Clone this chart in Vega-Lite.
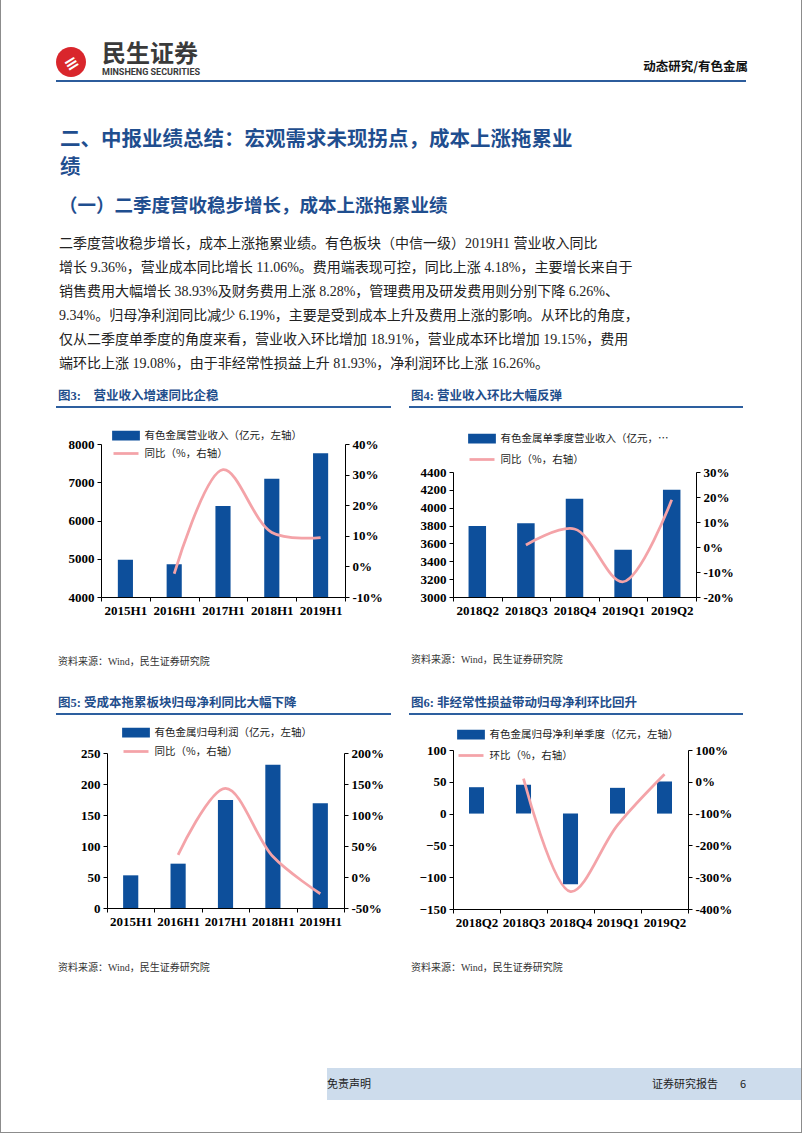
{
  "$schema": "https://vega.github.io/schema/vega-lite/v6.json",
  "background": "white",
  "padding": 0,
  "spacing": 0,
  "resolve": {"scale": {"color": "independent"}, "legend": {"color": "independent"}},
  "config": {
    "view": {"stroke": null},
    "axis": {"domainColor": "#000000", "tickColor": "#000000", "labelColor": "#000000", "labelFont": "Liberation Serif", "labelFontWeight": "bold", "labelFontSize": 13, "grid": false, "tickSize": 4, "labelPadding": 3},
    "axisX": {"tickBand": "extent", "labelAngle": 0},
    "legend": {"orient": "none", "direction": "vertical", "labelFont": "Noto Sans CJK SC", "labelFontSize": 10.5, "labelColor": "#222222", "labelOffset": 12, "padding": 0, "symbolSize": 100, "labelLimit": 300}
  },
  "vconcat": [
    {
      "spacing": 0,
      "resolve": {"scale": {"color": "independent"}, "legend": {"color": "independent"}},
      "hconcat": [
        {"width": 1, "height": 1132, "view": {"fill": "#8c8c8c", "stroke": null}, "data": {"values": []}, "mark": "point"},
        {"width": 55, "height": 1, "data": {"values": []}, "mark": "point"},
        {
          "spacing": 0,
          "resolve": {"scale": {"color": "independent"}, "legend": {"color": "independent"}},
          "vconcat": [
            {"width": 1, "height": 41, "data": {"values": []}, "mark": "point"},
            {
              "spacing": 16,
              "hconcat": [
                {
                  "spacing": 0,
                  "vconcat": [
                    {"width": 1, "height": 6, "data": {"values": []}, "mark": "point"},
                    {"width": 30, "height": 30, "view": {"fill": "#d9262c", "cornerRadius": 15, "stroke": null}, "data": {"values": []}, "mark": "point",
                     "title": {"text": "≡", "orient": "bottom", "anchor": "middle", "offset": -22, "dx": -4, "angle": -32, "font": "DejaVu Sans", "fontSize": 17, "fontWeight": "bold", "color": "#ffffff"}}
                  ]
                },
                {
                  "width": 98, "height": 0, "data": {"values": []}, "mark": "point",
                  "title": {"text": "民生证券", "subtitle": "MINSHENG SECURITIES", "orient": "bottom", "font": "Noto Sans CJK SC", "fontSize": 24, "fontWeight": "bold", "color": "#3a3a3a", "subtitleFont": "Roboto", "subtitleFontSize": 9, "subtitleFontWeight": "bold", "subtitleColor": "#3a3a3a", "subtitlePadding": 1, "anchor": "start", "offset": 0, "dy": -18}
                },
                {
                  "width": 531, "height": 20, "data": {"values": []}, "mark": "point",
                  "title": {"text": "动态研究/有色金属", "orient": "bottom", "anchor": "end", "offset": 0, "font": "Noto Sans CJK SC", "fontSize": 12.5, "fontWeight": "bold", "color": "#111111"}
                }
              ]
            },
            {"width": 1, "height": 3, "data": {"values": []}, "mark": "point"},
            {"width": 690, "height": 2, "view": {"fill": "#2c5c9c", "stroke": null}, "data": {"values": []}, "mark": "point"},
            {"width": 1, "height": 47, "data": {"values": []}, "mark": "point"},
            {
              "spacing": -2,
              "resolve": {"scale": {"color": "independent"}, "legend": {"color": "independent"}},
              "vconcat": [
                {
                  "width": 690, "height": 0, "data": {"values": []}, "mark": "point",
                  "title": {"text": ["二、中报业绩总结：宏观需求未现拐点，成本上涨拖累业", "绩"], "lineHeight": 28, "font": "Noto Sans CJK SC", "fontSize": 20.5, "fontWeight": "bold", "color": "#1f4e8f", "anchor": "start", "offset": 0, "dx": 4}
                },
                {
                  "width": 690, "height": 0, "data": {"values": []}, "mark": "point",
                  "title": {
                    "text": "（一）二季度营收稳步增长，成本上涨拖累业绩",
                    "font": "Noto Sans CJK SC", "fontSize": 18.5, "fontWeight": "bold", "color": "#1f4e8f", "anchor": "start", "offset": 0, "dx": 3,
                    "subtitle": [
                      "　　二季度营收稳步增长，成本上涨拖累业绩。有色板块（中信一级）2019H1 营业收入同比",
                      "增长 9.36%，营业成本同比增长 11.06%。费用端表现可控，同比上涨 4.18%，主要增长来自于",
                      "销售费用大幅增长 38.93%及财务费用上涨 8.28%，管理费用及研发费用则分别下降 6.26%、",
                      "9.34%。归母净利润同比减少 6.19%，主要是受到成本上升及费用上涨的影响。从环比的角度，",
                      "仅从二季度单季度的角度来看，营业收入环比增加 18.91%，营业成本环比增加 19.15%，费用",
                      "端环比上涨 19.08%，由于非经常性损益上升 81.93%，净利润环比上涨 16.26%。"
                    ],
                    "subtitleFont": "'Liberation Serif', 'Noto Sans CJK SC'", "subtitleFontSize": 14, "subtitleColor": "#222222", "subtitleLineHeight": 24, "subtitlePadding": 22
                  }
                },
                {
                  "spacing": 18,
                  "resolve": {"scale": {"color": "independent"}, "legend": {"color": "independent"}},
                  "hconcat": [
                    {
                      "spacing": 0,
                      "resolve": {"scale": {"color": "independent"}, "legend": {"color": "independent"}},
                      "vconcat": [
                        {"width": 335, "height": 2, "view": {"fill": "#2d5f9f", "stroke": null}, "data": {"values": []}, "mark": "point",
                         "title": {"text": "图3:　营业收入增速同比企稳", "font": "'Liberation Serif', 'Noto Sans CJK SC'", "fontSize": 12.5, "fontWeight": "bold", "color": "#1f4e8c", "anchor": "start", "offset": 4, "dx": 2}},
                        {"width": 1, "height": 21, "data": {"values": []}, "mark": "point"},
                        {
                          "spacing": 8,
                          "resolve": {"scale": {"color": "independent"}, "legend": {"color": "independent"}},
                          "hconcat": [
                            {"width": 1, "height": 1, "data": {"values": []}, "mark": "point"},
                            {
                              "width": 244, "height": 153,
                              "data": {"values": [
                                {"period": "2015H1", "revenue": 4975, "yoy": null},
                                {"period": "2016H1", "revenue": 4855, "yoy": -2.4},
                                {"period": "2017H1", "revenue": 6380, "yoy": 31.6},
                                {"period": "2018H1", "revenue": 7090, "yoy": 11.1},
                                {"period": "2019H1", "revenue": 7755, "yoy": 9.4}
                              ]},
                              "encoding": {"x": {"field": "period", "type": "ordinal", "sort": null, "title": null, "scale": {"paddingInner": 0, "paddingOuter": 0}}},
                              "layer": [
                                {
                                  "mark": {"type": "bar", "width": {"band": 0.31}, "clip": true},
                                  "encoding": {
                                    "y": {"field": "revenue", "type": "quantitative", "title": null, "scale": {"domain": [4000, 8000], "zero": false, "nice": false}, "axis": {"values": [4000, 5000, 6000, 7000, 8000], "format": "d", "minExtent": 36}},
                                    "color": {"datum": "有色金属营业收入（亿元，左轴）", "type": "nominal",
                                      "scale": {"domain": ["有色金属营业收入（亿元，左轴）", "同比（%，右轴）"], "range": ["#0d4f9b", "#f4a3a8"]},
                                      "legend": {"title": null, "legendX": 18.5, "legendY": -15, "rowPadding": 2,
                                        "encode": {"symbols": {"update": {
                                          "shape": {"signal": "datum.index === 0 ? 'M-2.5,-0.7H2.5V0.7H-2.5Z' : 'M-2.5,0H2.5'"},
                                          "fill": {"signal": "datum.index === 0 ? '#0d4f9b' : 'transparent'"},
                                          "stroke": {"signal": "datum.index === 0 ? 'transparent' : '#f4a3a8'"},
                                          "strokeWidth": {"value": 2.75}, "opacity": {"value": 1}}}}}}
                                  }
                                },
                                {
                                  "transform": [{"filter": "datum.yoy != null"}],
                                  "mark": {"type": "line", "interpolate": "catmull-rom", "strokeWidth": 2.75},
                                  "encoding": {
                                    "y": {"field": "yoy", "type": "quantitative", "title": null, "scale": {"domain": [-10, 40], "zero": false, "nice": false}, "axis": {"orient": "right", "values": [-10, 0, 10, 20, 30, 40], "labelExpr": "datum.value + '%'"}},
                                    "color": {"datum": "同比（%，右轴）", "type": "nominal"}
                                  }
                                }
                              ],
                              "resolve": {"scale": {"y": "independent"}}
                            }
                          ]
                        },
                        {"width": 1, "height": 40, "data": {"values": []}, "mark": "point"},
                        {"width": 335, "height": 0, "data": {"values": []}, "mark": "point",
                         "title": {"text": "资料来源：Wind，民生证券研究院", "font": "'Liberation Serif', 'Noto Sans CJK SC'", "fontSize": 10, "fontWeight": "normal", "color": "#333333", "anchor": "start", "offset": 0, "dx": 2}}
                      ]
                    },
                    {
                      "spacing": 0,
                      "resolve": {"scale": {"color": "independent"}, "legend": {"color": "independent"}},
                      "vconcat": [
                        {"width": 334, "height": 2, "view": {"fill": "#2d5f9f", "stroke": null}, "data": {"values": []}, "mark": "point",
                         "title": {"text": "图4: 营业收入环比大幅反弹", "font": "'Liberation Serif', 'Noto Sans CJK SC'", "fontSize": 12.5, "fontWeight": "bold", "color": "#1f4e8c", "anchor": "start", "offset": 4, "dx": 2}},
                        {"width": 1, "height": 24, "data": {"values": []}, "mark": "point"},
                        {
                          "spacing": 7,
                          "resolve": {"scale": {"color": "independent"}, "legend": {"color": "independent"}},
                          "hconcat": [
                            {"width": 1, "height": 1, "data": {"values": []}, "mark": "point"},
                            {
                              "width": 243, "height": 125,
                              "data": {"values": [
                                {"period": "2018Q2", "revenue": 3795, "qoq": null},
                                {"period": "2018Q3", "revenue": 3825, "qoq": 0.8},
                                {"period": "2018Q4", "revenue": 4100, "qoq": 7.2},
                                {"period": "2019Q1", "revenue": 3530, "qoq": -13.9},
                                {"period": "2019Q2", "revenue": 4200, "qoq": 18.9}
                              ]},
                              "encoding": {"x": {"field": "period", "type": "ordinal", "sort": null, "title": null, "scale": {"paddingInner": 0, "paddingOuter": 0}}},
                              "layer": [
                                {
                                  "mark": {"type": "bar", "width": {"band": 0.36}, "clip": true},
                                  "encoding": {
                                    "y": {"field": "revenue", "type": "quantitative", "title": null, "scale": {"domain": [3000, 4400], "zero": false, "nice": false}, "axis": {"values": [3000, 3200, 3400, 3600, 3800, 4000, 4200, 4400], "format": "d", "minExtent": 36}},
                                    "color": {"datum": "有色金属单季度营业收入（亿元，左轴）", "type": "nominal",
                                      "scale": {"domain": ["有色金属单季度营业收入（亿元，左轴）", "同比（%，右轴）"], "range": ["#0d4f9b", "#f4a3a8"]},
                                      "legend": {"title": null, "legendX": 22.5, "legendY": -40, "rowPadding": 5, "labelLimit": 170,
                                        "encode": {"symbols": {"update": {
                                          "shape": {"signal": "datum.index === 0 ? 'M-2.5,-0.7H2.5V0.7H-2.5Z' : 'M-2.5,0H2.5'"},
                                          "fill": {"signal": "datum.index === 0 ? '#0d4f9b' : 'transparent'"},
                                          "stroke": {"signal": "datum.index === 0 ? 'transparent' : '#f4a3a8'"},
                                          "strokeWidth": {"value": 2.75}, "opacity": {"value": 1}}}}}}
                                  }
                                },
                                {
                                  "transform": [{"filter": "datum.qoq != null"}],
                                  "mark": {"type": "line", "interpolate": "catmull-rom", "strokeWidth": 2.75},
                                  "encoding": {
                                    "y": {"field": "qoq", "type": "quantitative", "title": null, "scale": {"domain": [-20, 30], "zero": false, "nice": false}, "axis": {"orient": "right", "values": [-20, -10, 0, 10, 20, 30], "labelExpr": "datum.value + '%'"}},
                                    "color": {"datum": "同比（%，右轴）", "type": "nominal"}
                                  }
                                }
                              ],
                              "resolve": {"scale": {"y": "independent"}}
                            }
                          ]
                        },
                        {"width": 1, "height": 38, "data": {"values": []}, "mark": "point"},
                        {"width": 334, "height": 0, "data": {"values": []}, "mark": "point",
                         "title": {"text": "资料来源：Wind，民生证券研究院", "font": "'Liberation Serif', 'Noto Sans CJK SC'", "fontSize": 10, "fontWeight": "normal", "color": "#333333", "anchor": "start", "offset": 0, "dx": 2}}
                      ]
                    }
                  ]
                }
              ]
            },
            {"width": 1, "height": 9, "data": {"values": []}, "mark": "point"},
            {
              "spacing": 18,
              "resolve": {"scale": {"color": "independent"}, "legend": {"color": "independent"}},
              "hconcat": [
                {
                  "spacing": 0,
                  "resolve": {"scale": {"color": "independent"}, "legend": {"color": "independent"}},
                  "vconcat": [
                    {"width": 335, "height": 2, "view": {"fill": "#2d5f9f", "stroke": null}, "data": {"values": []}, "mark": "point",
                     "title": {"text": "图5: 受成本拖累板块归母净利同比大幅下降", "font": "'Liberation Serif', 'Noto Sans CJK SC'", "fontSize": 12.5, "fontWeight": "bold", "color": "#1f4e8c", "anchor": "start", "offset": 4, "dx": 2}},
                    {"width": 1, "height": 11, "data": {"values": []}, "mark": "point"},
                    {
                      "spacing": 14,
                      "resolve": {"scale": {"color": "independent"}, "legend": {"color": "independent"}},
                      "hconcat": [
                        {"width": 1, "height": 1, "data": {"values": []}, "mark": "point"},
                        {
                          "width": 237, "height": 155,
                          "data": {"values": [
                            {"period": "2015H1", "profit": 52.7, "yoy": null},
                            {"period": "2016H1", "profit": 71.5, "yoy": 35.7},
                            {"period": "2017H1", "profit": 174, "yoy": 143},
                            {"period": "2018H1", "profit": 231, "yoy": 33},
                            {"period": "2019H1", "profit": 169, "yoy": -27}
                          ]},
                          "encoding": {"x": {"field": "period", "type": "ordinal", "sort": null, "title": null, "scale": {"paddingInner": 0, "paddingOuter": 0}}},
                          "layer": [
                            {
                              "mark": {"type": "bar", "width": {"band": 0.32}, "clip": true},
                              "encoding": {
                                "y": {"field": "profit", "type": "quantitative", "title": null, "scale": {"domain": [0, 250], "nice": false}, "axis": {"values": [0, 50, 100, 150, 200, 250], "format": "d", "minExtent": 36}},
                                "color": {"datum": "有色金属归母利润（亿元，左轴）", "type": "nominal",
                                  "scale": {"domain": ["有色金属归母利润（亿元，左轴）", "同比（%，右轴）"], "range": ["#0d4f9b", "#f4a3a8"]},
                                  "legend": {"title": null, "legendX": 22.5, "legendY": -27, "rowPadding": 3,
                                    "encode": {"symbols": {"update": {
                                      "shape": {"signal": "datum.index === 0 ? 'M-2.5,-0.7H2.5V0.7H-2.5Z' : 'M-2.5,0H2.5'"},
                                      "fill": {"signal": "datum.index === 0 ? '#0d4f9b' : 'transparent'"},
                                      "stroke": {"signal": "datum.index === 0 ? 'transparent' : '#f4a3a8'"},
                                      "strokeWidth": {"value": 2.75}, "opacity": {"value": 1}}}}}}
                              }
                            },
                            {
                              "transform": [{"filter": "datum.yoy != null"}],
                              "mark": {"type": "line", "interpolate": "catmull-rom", "strokeWidth": 2.75},
                              "encoding": {
                                "y": {"field": "yoy", "type": "quantitative", "title": null, "scale": {"domain": [-50, 200], "zero": false, "nice": false}, "axis": {"orient": "right", "values": [-50, 0, 50, 100, 150, 200], "labelExpr": "datum.value + '%'"}},
                                "color": {"datum": "同比（%，右轴）", "type": "nominal"}
                              }
                            }
                          ],
                          "resolve": {"scale": {"y": "independent"}}
                        }
                      ]
                    },
                    {"width": 1, "height": 35, "data": {"values": []}, "mark": "point"},
                    {"width": 335, "height": 0, "data": {"values": []}, "mark": "point",
                     "title": {"text": "资料来源：Wind，民生证券研究院", "font": "'Liberation Serif', 'Noto Sans CJK SC'", "fontSize": 10, "fontWeight": "normal", "color": "#333333", "anchor": "start", "offset": 0, "dx": 2}}
                  ]
                },
                {
                  "spacing": 0,
                  "resolve": {"scale": {"color": "independent"}, "legend": {"color": "independent"}},
                  "vconcat": [
                    {"width": 334, "height": 2, "view": {"fill": "#2d5f9f", "stroke": null}, "data": {"values": []}, "mark": "point",
                     "title": {"text": "图6: 非经常性损益带动归母净利环比回升", "font": "'Liberation Serif', 'Noto Sans CJK SC'", "fontSize": 12.5, "fontWeight": "bold", "color": "#1f4e8c", "anchor": "start", "offset": 4, "dx": 2}},
                    {"width": 1, "height": 13, "data": {"values": []}, "mark": "point"},
                    {
                      "spacing": 7,
                      "resolve": {"scale": {"color": "independent"}, "legend": {"color": "independent"}},
                      "hconcat": [
                        {"width": 1, "height": 1, "data": {"values": []}, "mark": "point"},
                        {
                          "width": 235, "height": 159,
                          "data": {"values": [
                            {"period": "2018Q2", "profit": 41.5, "qoq": null},
                            {"period": "2018Q3", "profit": 45.5, "qoq": 10},
                            {"period": "2018Q4", "profit": -111, "qoq": -345},
                            {"period": "2019Q1", "profit": 40.5, "qoq": -136},
                            {"period": "2019Q2", "profit": 50.5, "qoq": 24}
                          ]},
                          "encoding": {"x": {"field": "period", "type": "ordinal", "sort": null, "title": null, "scale": {"paddingInner": 0, "paddingOuter": 0}}},
                          "layer": [
                            {
                              "mark": {"type": "bar", "width": {"band": 0.32}, "clip": true},
                              "encoding": {
                                "y": {"field": "profit", "type": "quantitative", "title": null, "scale": {"domain": [-150, 100], "nice": false}, "axis": {"values": [-150, -100, -50, 0, 50, 100], "format": "d", "minExtent": 36}},
                                "color": {"datum": "有色金属归母净利单季度（亿元，左轴）", "type": "nominal",
                                  "scale": {"domain": ["有色金属归母净利单季度（亿元，左轴）", "环比（%，右轴）"], "range": ["#0d4f9b", "#f4a3a8"]},
                                  "legend": {"title": null, "legendX": 11.5, "legendY": -22, "rowPadding": 5,
                                    "encode": {"symbols": {"update": {
                                      "shape": {"signal": "datum.index === 0 ? 'M-2.5,-0.7H2.5V0.7H-2.5Z' : 'M-2.5,0H2.5'"},
                                      "fill": {"signal": "datum.index === 0 ? '#0d4f9b' : 'transparent'"},
                                      "stroke": {"signal": "datum.index === 0 ? 'transparent' : '#f4a3a8'"},
                                      "strokeWidth": {"value": 2.75}, "opacity": {"value": 1}}}}}}
                              }
                            },
                            {
                              "transform": [{"filter": "datum.qoq != null"}],
                              "mark": {"type": "line", "interpolate": "catmull-rom", "strokeWidth": 2.75},
                              "encoding": {
                                "y": {"field": "qoq", "type": "quantitative", "title": null, "scale": {"domain": [-400, 100], "zero": false, "nice": false}, "axis": {"orient": "right", "values": [-400, -300, -200, -100, 0, 100], "labelExpr": "datum.value + '%'"}},
                                "color": {"datum": "环比（%，右轴）", "type": "nominal"}
                              }
                            }
                          ],
                          "resolve": {"scale": {"y": "independent"}}
                        }
                      ]
                    },
                    {"width": 1, "height": 34, "data": {"values": []}, "mark": "point"},
                    {"width": 334, "height": 0, "data": {"values": []}, "mark": "point",
                     "title": {"text": "资料来源：Wind，民生证券研究院", "font": "'Liberation Serif', 'Noto Sans CJK SC'", "fontSize": 10, "fontWeight": "normal", "color": "#333333", "anchor": "start", "offset": 0, "dx": 2}}
                  ]
                }
              ]
            },
            {"width": 1, "height": 75, "data": {"values": []}, "mark": "point"},
            {
              "spacing": 0,
              "hconcat": [
                {"width": 271, "height": 32, "data": {"values": []}, "mark": "point"},
                {"width": 273, "height": 32, "view": {"fill": "#cddcec", "stroke": null}, "data": {"values": []}, "mark": "point",
                 "title": {"text": "免责声明", "font": "Noto Sans CJK SC", "fontSize": 11, "fontWeight": "normal", "color": "#222222", "anchor": "start", "offset": -22}},
                {"width": 146, "height": 32, "view": {"fill": "#cddcec", "stroke": null}, "data": {"values": []}, "mark": "point",
                 "title": {"text": "证券研究报告　　6", "font": "Noto Sans CJK SC", "fontSize": 11, "fontWeight": "normal", "color": "#222222", "anchor": "end", "offset": -22}},
                {"width": 55, "height": 32, "view": {"fill": "#cddcec", "stroke": null}, "data": {"values": []}, "mark": "point"}
              ]
            }
          ]
        },
        {"width": 1, "height": 1132, "view": {"fill": "#8c8c8c", "stroke": null}, "data": {"values": []}, "mark": "point"}
      ]
    },
    {"width": 802, "height": 1, "view": {"fill": "#8c8c8c", "stroke": null}, "data": {"values": []}, "mark": "point"}
  ]
}
